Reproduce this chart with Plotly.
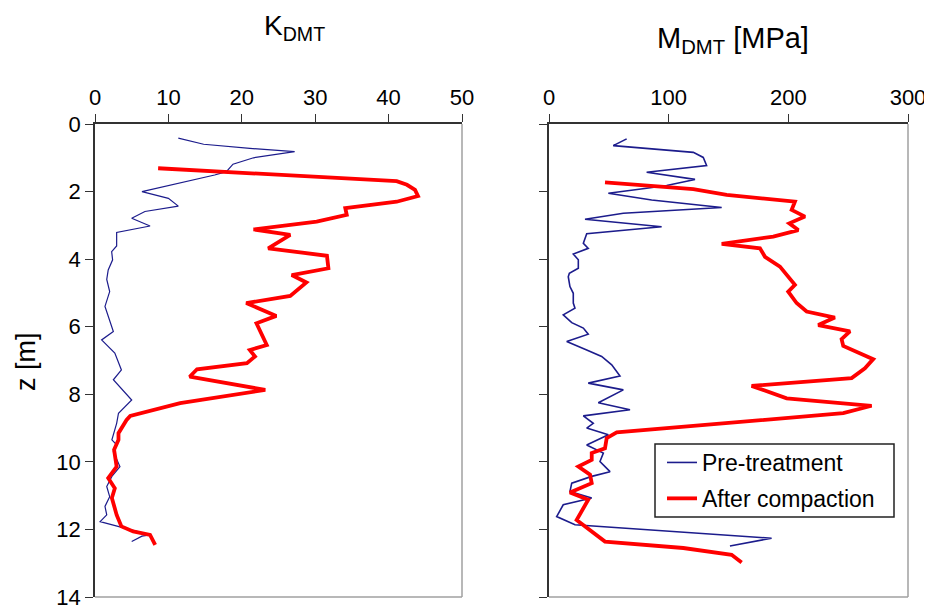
import plotly.graph_objects as go

# ---- data: K_DMT (left panel) ----
z_k_pre = [0.42, 0.60, 0.72, 0.82, 1.00, 1.19, 1.41, 1.51, 2.00, 2.20, 2.43, 2.59, 2.79, 3.02, 3.21, 3.61, 3.78,
           4.02, 4.32, 4.60, 4.96, 5.40, 6.14, 6.39, 6.78, 7.28, 7.57, 8.17, 8.56, 8.86, 9.35, 9.50, 9.70,
           10.14, 10.43, 10.73, 11.03, 11.32, 11.57, 11.77, 12.16, 12.20, 12.36]
k_pre = [11.35, 14.8, 21.1, 27.2, 21.6, 18.8, 17.9, 16.3, 6.4, 10.0, 11.35, 6.8, 5.0, 7.5, 2.95, 2.95, 2.27,
         2.4, 1.8, 1.6, 2.0, 1.36, 2.5, 0.9, 2.7, 3.6, 2.5, 5.0, 3.2, 2.95, 2.3, 2.95, 2.5,
         3.4, 2.3, 1.6, 2.0, 1.36, 1.6, 0.7, 7.5, 6.4, 5.0]

z_k_post = [1.31, 1.69, 1.80, 1.95, 2.13, 2.30, 2.49, 2.69, 2.89, 3.12, 3.28, 3.68, 3.90, 4.27, 4.47, 4.69,
            5.09, 5.30, 5.68, 5.90, 6.54, 6.69, 6.88, 7.08, 7.26, 7.48, 7.87, 8.26, 8.64, 8.76, 9.15, 9.35,
            9.64, 10.14, 10.48, 10.78, 11.07, 11.57, 11.91, 12.06, 12.16, 12.46]
k_post = [8.6, 41.1, 42.5, 43.6, 44.0, 41.1, 34.1, 34.3, 30.2, 21.6, 26.6, 23.6, 31.6, 31.8, 26.8, 28.8,
          26.6, 20.6, 24.7, 22.0, 23.4, 21.1, 21.8, 20.7, 13.9, 12.9, 23.2, 11.6, 4.8, 4.3, 3.2, 3.2,
          2.6, 2.95, 1.8, 2.7, 2.3, 2.95, 3.6, 5.2, 7.5, 8.2]

# ---- data: M_DMT (right panel) ----
z_m_pre = [0.44, 0.64, 0.84, 0.99, 1.23, 1.43, 1.64, 1.82, 1.90, 2.05, 2.25, 2.47, 2.64, 2.82, 3.04, 3.25,
           3.53, 3.68, 3.85, 4.02, 4.27, 4.42, 4.52, 4.81, 5.01, 5.30, 5.45, 5.65, 5.88, 6.04, 6.22, 6.44,
           6.69, 6.88, 7.13, 7.46, 7.67, 7.87, 8.25, 8.46, 8.64, 8.86, 9.00, 9.20, 9.50, 9.74, 9.99,
           10.29, 10.43, 10.63, 10.88, 11.07, 11.27, 11.62, 11.86, 12.26, 12.49]
m_pre = [64.9, 53.7, 120.6, 128.9, 131.7, 81.6, 122.0, 98.3, 81.6, 49.6, 85.8, 144.3, 62.1, 30.1, 94.1, 31.5,
         28.7, 32.8, 20.3, 24.5, 24.5, 17.0, 16.1, 17.5, 20.3, 20.3, 21.7, 11.9, 19.0, 28.7, 32.8, 14.8,
         31.5, 44.0, 52.4, 59.3, 32.8, 62.1, 41.2, 67.7, 28.7, 37.0, 31.5, 49.6, 31.5, 45.4, 42.6,
         51.0, 35.7, 19.0, 17.5, 35.7, 11.9, 6.4, 21.7, 186.0, 151.2]

z_m_post = [1.73, 1.93, 2.10, 2.30, 2.54, 2.74, 2.94, 3.14, 3.33, 3.55, 3.68, 3.93, 4.22, 4.47, 4.76, 4.96,
            5.30, 5.55, 5.73, 5.95, 6.14, 6.37, 6.57, 6.96, 7.23, 7.52, 7.75, 8.12, 8.34, 8.56, 9.13, 9.30,
            9.60, 9.74, 9.94, 10.14, 10.38, 10.63, 10.91, 11.12, 11.72, 12.36, 12.55, 12.75, 12.98]
m_post = [46.8, 120.6, 148.5, 205.5, 202.8, 213.9, 200.8, 208.3, 187.4, 144.3, 176.3, 180.5, 193.0, 198.6, 205.5, 199.9,
          206.9, 215.3, 238.9, 225.0, 251.5, 244.5, 245.9, 270.9, 264.0, 252.9, 169.3, 198.6, 269.6, 245.9, 56.6, 48.2,
          46.8, 35.7, 35.7, 24.5, 34.3, 35.7, 17.5, 32.8, 23.1, 46.8, 112.2, 152.6, 161.0]

k_ticks = [0, 10, 20, 30, 40, 50]
m_ticks = [0, 100, 200, 300]
z_ticks = [0, 2, 4, 6, 8, 10, 12, 14]

BLUE = "#1c1c8c"
RED = "#ff0000"
FONT = "Liberation Sans"

fig = go.Figure()
fig.add_trace(go.Scatter(x=k_pre, y=z_k_pre, mode="lines", line=dict(color=BLUE, width=1.2),
                         xaxis="x", yaxis="y", showlegend=False))
fig.add_trace(go.Scatter(x=k_post, y=z_k_post, mode="lines", line=dict(color=RED, width=3.8),
                         xaxis="x", yaxis="y", showlegend=False))
fig.add_trace(go.Scatter(x=m_pre, y=z_m_pre, mode="lines", line=dict(color=BLUE, width=1.6),
                         xaxis="x2", yaxis="y2", name="Pre-treatment", legendgroup="a"))
fig.add_trace(go.Scatter(x=m_post, y=z_m_post, mode="lines", line=dict(color=RED, width=3.8),
                         xaxis="x2", yaxis="y2", name="After compaction", legendgroup="b"))

# page body has an 8px margin, so the figure starts at (8, 8) of the window
OFF = 8
W, H = 924, 600
L = 95 - OFF
T = 124 - OFF
R = W - (908 - OFF)
B = H - (597 - OFF)
pw = W - L - R
ph = H - T - B
d1 = (462 - 95) / pw
d2 = (549 - 95) / pw

ax_common = dict(showline=True, linecolor="#333333", linewidth=1.5, ticks="outside", ticklen=8,
                 tickcolor="#333333", tickwidth=1.2, tickfont=dict(family=FONT, size=22, color="black"),
                 showgrid=False, zeroline=False, automargin=False, ticklabeloverflow="allow")
ax_noft = {k: v for k, v in ax_common.items() if k not in ("tickfont", "ticklabeloverflow")}


def px_to_paper(px, py):
    return (px - OFF - L) / pw, (H - B - (py - OFF)) / ph


lx, ly = px_to_paper(662, 441)
bx0, by0 = px_to_paper(655, 517)
bx1, by1 = px_to_paper(894, 444)
fig.update_layout(
    width=W, height=H,
    margin=dict(l=L, r=R, t=T, b=B),
    paper_bgcolor="white", plot_bgcolor="white",
    font=dict(family=FONT, color="black"),
    xaxis=dict(domain=[0, d1], range=[0, 50], side="top", tickvals=k_ticks, anchor="y", **ax_common),
    yaxis=dict(domain=[0, 1], range=[14, 0], tickvals=z_ticks, anchor="x", **ax_common),
    xaxis2=dict(domain=[d2, 1], range=[0, 300], side="top", tickvals=m_ticks, anchor="y2", **ax_common),
    yaxis2=dict(domain=[0, 1], range=[14, 0], tickvals=z_ticks, anchor="x2", showticklabels=False, **ax_noft),
    legend=dict(x=lx, y=ly, xanchor="left", yanchor="top",
                borderwidth=0, bgcolor="rgba(0,0,0,0)",
                font=dict(family=FONT, size=23, color="black"), itemwidth=30, tracegroupgap=3),
    shapes=[
        dict(type="line", xref="x domain", yref="y domain", x0=1, x1=1, y0=0, y1=1,
             line=dict(color="#a0a0a0", width=1.5)),
        dict(type="line", xref="x domain", yref="y domain", x0=0, x1=1, y0=0, y1=0,
             line=dict(color="#a0a0a0", width=1.5)),
        dict(type="line", xref="x2 domain", yref="y2 domain", x0=1, x1=1, y0=0, y1=1,
             line=dict(color="#a0a0a0", width=1.5)),
        dict(type="line", xref="x2 domain", yref="y2 domain", x0=0, x1=1, y0=0, y1=0,
             line=dict(color="#a0a0a0", width=1.5)),
        # legend frame
        dict(type="rect", xref="paper", yref="paper", x0=bx0, x1=bx1, y0=by0, y1=by1,
             fillcolor="white", line=dict(color="#222222", width=1.5), layer="above"),
    ],
    annotations=[
        dict(text="K<sub>DMT</sub>", x=px_to_paper(294, 28)[0], y=px_to_paper(294, 28)[1],
             xref="paper", yref="paper", xanchor="center", yanchor="middle", showarrow=False,
             font=dict(family=FONT, size=28)),
        dict(text="M<sub>DMT</sub> [MPa]", x=px_to_paper(733, 40)[0], y=px_to_paper(733, 40)[1],
             xref="paper", yref="paper", xanchor="center", yanchor="middle", showarrow=False,
             font=dict(family=FONT, size=29)),
        dict(text="z [m]", x=px_to_paper(26, 362)[0], y=px_to_paper(26, 362)[1],
             xref="paper", yref="paper", textangle=-90, xanchor="center", yanchor="middle",
             showarrow=False, font=dict(family=FONT, size=27)),
    ],
)

fig.write_html("out.html")
